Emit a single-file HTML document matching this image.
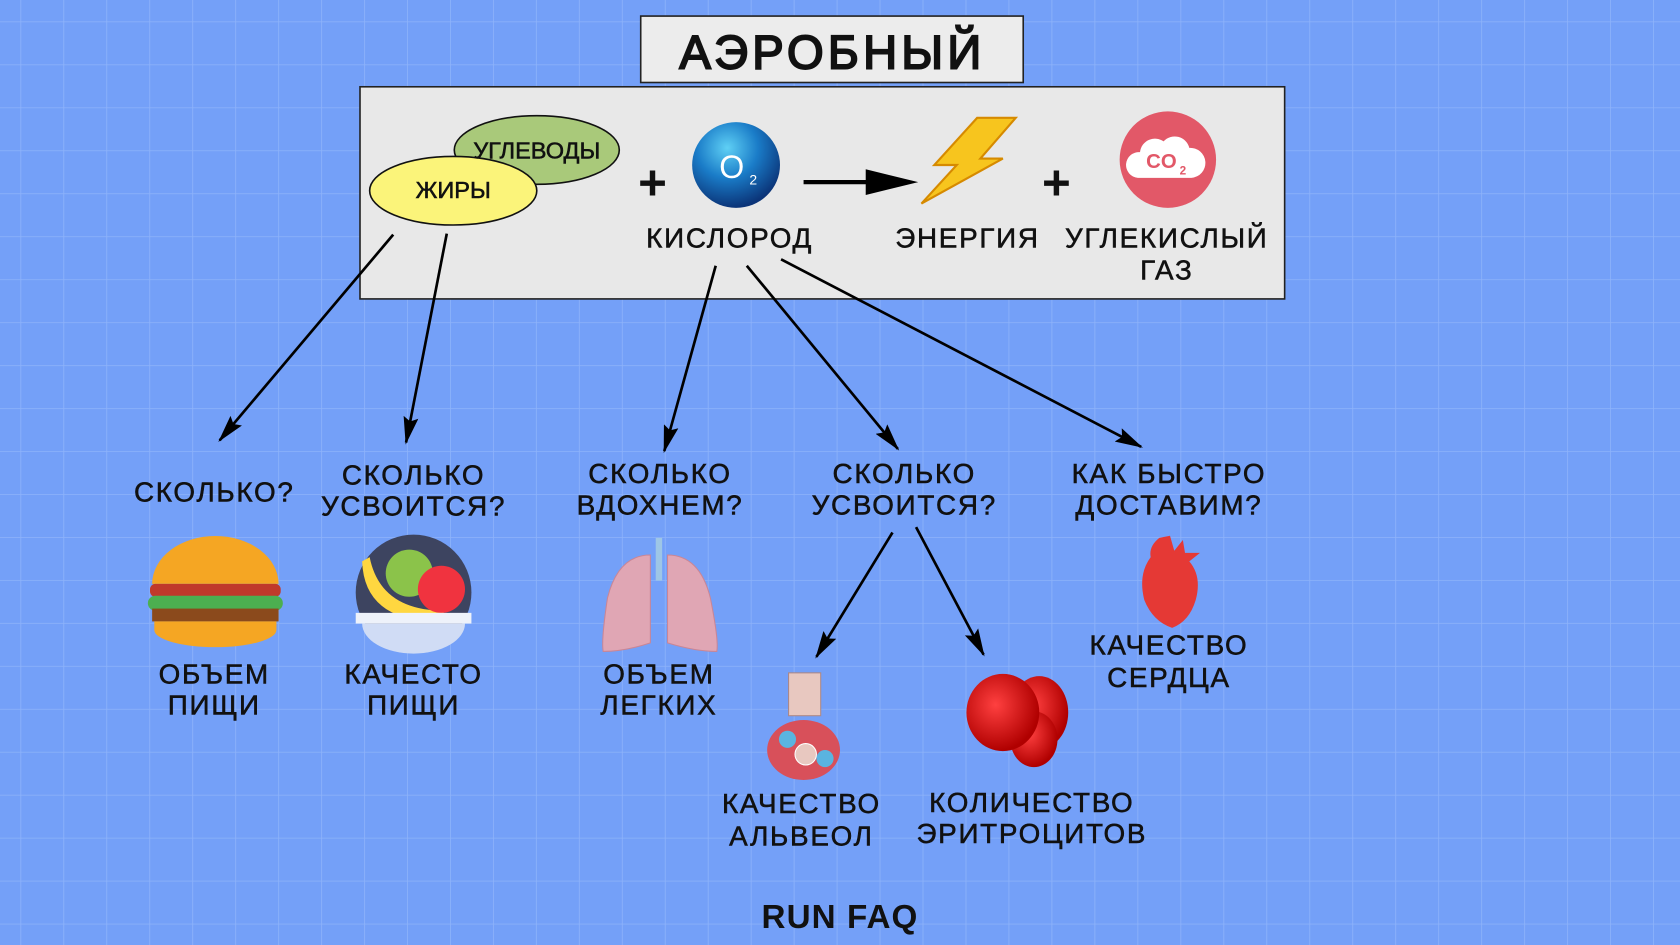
<!DOCTYPE html>
<html><head><meta charset="utf-8"><style>
html,body{margin:0;padding:0;width:1680px;height:945px;overflow:hidden;background:#74a0f8}
svg{display:block}
text{font-family:"Liberation Sans",sans-serif;fill:#111;text-anchor:middle}
.t{font-size:26px;letter-spacing:1.6px;stroke:#111;stroke-width:0.5}
</style></head><body>
<svg width="1680" height="945" viewBox="0 0 1568 882" xmlns="http://www.w3.org/2000/svg">
<defs>
<pattern id="g" x="19" y="20" width="40.1" height="40.1" patternUnits="userSpaceOnUse">
<path d="M0 0H40.1M0 0V40.1" stroke="#8eb3fa" stroke-width="1.5" fill="none"/>
</pattern>
<marker id="a" markerWidth="26" markerHeight="14" refX="24" refY="7" orient="auto" markerUnits="userSpaceOnUse" viewBox="0 0 26 14">
<path d="M0 0L26 7L0 14L4 7z" fill="#000"/>
</marker>
<radialGradient id="o2" cx="40%" cy="30%" r="70%"><stop offset="0" stop-color="#5fd0f5"/><stop offset="0.5" stop-color="#1a7cc8"/><stop offset="1" stop-color="#0b3478"/></radialGradient>
<radialGradient id="rb" cx="40%" cy="40%" r="60%"><stop offset="0" stop-color="#ff4040"/><stop offset="1" stop-color="#b00000"/></radialGradient>
</defs>
<rect width="1568" height="882" fill="#74a0f8"/>
<rect width="1568" height="882" fill="url(#g)"/>

<rect x="598" y="15" width="357" height="62" fill="#ececec" stroke="#222" stroke-width="1.5"/>
<text x="777" y="64" style="font-size:44px;letter-spacing:4px;stroke:#111;stroke-width:1.8">АЭРОБНЫЙ</text>

<rect x="336" y="81" width="863" height="198" fill="#e8e8e8" stroke="#222" stroke-width="1.5"/>
<ellipse cx="501" cy="140" rx="77" ry="32" fill="#a9c97a" stroke="#111" stroke-width="1.5"/>
<ellipse cx="423" cy="178" rx="78" ry="32" fill="#fbf47a" stroke="#111" stroke-width="1.5"/>
<text x="501" y="148" style="font-size:22px;stroke:#111;stroke-width:0.5">УГЛЕВОДЫ</text>
<text x="423" y="185" style="font-size:22px;stroke:#111;stroke-width:0.5">ЖИРЫ</text>
<text x="609" y="186" style="font-size:46px;font-weight:bold">+</text>
<ellipse cx="687" cy="154" rx="41" ry="40" fill="url(#o2)"/>
<text x="683" y="166" style="font-size:30px;fill:#fff">O</text>
<text x="703" y="172" style="font-size:13px;fill:#fff">2</text>
<line x1="750" y1="170" x2="815" y2="170" stroke="#000" stroke-width="4"/>
<path d="M808 158L857 170L808 182z" fill="#000"/>
<path d="M912 110L948 110L915 148L936 148L860 190L893 154L872 154z" fill="#f7c51e" stroke="#d68a00" stroke-width="2"/>
<text x="986" y="186" style="font-size:46px;font-weight:bold">+</text>
<circle cx="1090" cy="149" r="45" fill="#e25868"/>
<path d="M1062 166a12 12 0 0 1 2-24a14 14 0 0 1 22-10a14 14 0 0 1 24 6a12 12 0 0 1 2 28z" fill="#fff"/>
<text x="1084" y="157" style="font-size:19px;font-weight:bold;fill:#e25868">CO</text>
<text x="1104" y="163" style="font-size:11px;font-weight:bold;fill:#e25868">2</text>
<text class="t" x="681" y="231">КИСЛОРОД</text>
<text class="t" x="903" y="231">ЭНЕРГИЯ</text>
<text class="t" x="1089" y="231">УГЛЕКИСЛЫЙ</text>
<text class="t" x="1089" y="261">ГАЗ</text>

<g stroke="#000" stroke-width="2.5" marker-end="url(#a)">
<line x1="367" y1="219" x2="205" y2="411"/>
<line x1="417" y1="218" x2="379" y2="413"/>
<line x1="668" y1="248" x2="620" y2="421"/>
<line x1="697" y1="248" x2="838" y2="419"/>
<line x1="729" y1="242" x2="1065" y2="417"/>
<line x1="833" y1="497" x2="762" y2="613"/>
<line x1="855" y1="492" x2="918" y2="611"/>
</g>

<text class="t" x="200" y="468">СКОЛЬКО?</text>
<text class="t" x="386" y="452">СКОЛЬКО</text><text class="t" x="386" y="481">УСВОИТСЯ?</text>
<text class="t" x="616" y="451">СКОЛЬКО</text><text class="t" x="616" y="480">ВДОХНЕМ?</text>
<text class="t" x="844" y="451">СКОЛЬКО</text><text class="t" x="844" y="480">УСВОИТСЯ?</text>
<text class="t" x="1091" y="451">КАК БЫСТРО</text><text class="t" x="1091" y="480">ДОСТАВИМ?</text>

<!-- burger -->
<path d="M142 545a58 44 0 0 1 118 0z" fill="#f5a623"/>
<rect x="140" y="545" width="122" height="12" rx="5" fill="#c0392b"/>
<rect x="138" y="556" width="126" height="14" rx="7" fill="#4caf50"/>
<rect x="142" y="568" width="118" height="12" fill="#8b4a1c"/>
<path d="M144 580h114v8a57 16 0 0 1-114 0z" fill="#f5a623"/>
<!-- bowl -->
<circle cx="386" cy="553" r="54" fill="#3d4460"/>
<path d="M345 520q10 50 70 50l-5 10q-70 0-72-56z" fill="#ffd740"/>
<circle cx="382" cy="535" r="22" fill="#8bc34a"/>
<circle cx="412" cy="550" r="22" fill="#f0333f"/>
<rect x="332" y="572" width="108" height="10" fill="#eef2fa"/>
<path d="M338 582h96a48 28 0 0 1-96 0z" fill="#d0dcf5"/>
<!-- lungs -->
<rect x="612" y="502" width="6" height="40" fill="#9ec6e6"/>
<path d="M607 518q-30 0-40 40q-6 40 -4 50q20 0 44-8z" fill="#e0a6b4" stroke="#c98696"/>
<path d="M623 518q30 0 40 40q8 40 6 50q-20 0-46-8z" fill="#e0a6b4" stroke="#c98696"/>
<!-- heart -->
<path d="M1092 500l4 14l8-10l2 12h14l-10 8q12 14 6 36q-6 20-22 26q-18-6-26-26q-6-24 6-40q-2-10 8-18z" fill="#e53935"/>
<!-- alveoli -->
<rect x="736" y="628" width="30" height="40" fill="#e8c8c0" stroke="#a88"/>
<ellipse cx="750" cy="700" rx="34" ry="28" fill="#d8505a"/>
<circle cx="735" cy="690" r="8" fill="#5ab4e0"/><circle cx="770" cy="708" r="8" fill="#5ab4e0"/>
<circle cx="752" cy="704" r="10" fill="#e8c8c0" stroke="#fff"/>
<!-- rbc -->
<ellipse cx="970" cy="665" rx="27" ry="34" fill="url(#rb)"/>
<ellipse cx="965" cy="690" rx="22" ry="26" fill="url(#rb)"/>
<ellipse cx="936" cy="665" rx="34" ry="36" fill="url(#rb)"/>

<text class="t" x="200" y="638">ОБЪЕМ</text><text class="t" x="200" y="667">ПИЩИ</text>
<text class="t" x="386" y="638">КАЧЕСТО</text><text class="t" x="386" y="667">ПИЩИ</text>
<text class="t" x="615" y="638">ОБЪЕМ</text><text class="t" x="615" y="667">ЛЕГКИХ</text>
<text class="t" x="1091" y="611">КАЧЕСТВО</text><text class="t" x="1091" y="641">СЕРДЦА</text>
<text class="t" x="748" y="759">КАЧЕСТВО</text><text class="t" x="748" y="789">АЛЬВЕОЛ</text>
<text class="t" x="963" y="758">КОЛИЧЕСТВО</text><text class="t" x="963" y="787">ЭРИТРОЦИТОВ</text>

<text x="784" y="866" style="font-size:31px;font-weight:bold;letter-spacing:1px">RUN FAQ</text>
</svg>
</body></html>
